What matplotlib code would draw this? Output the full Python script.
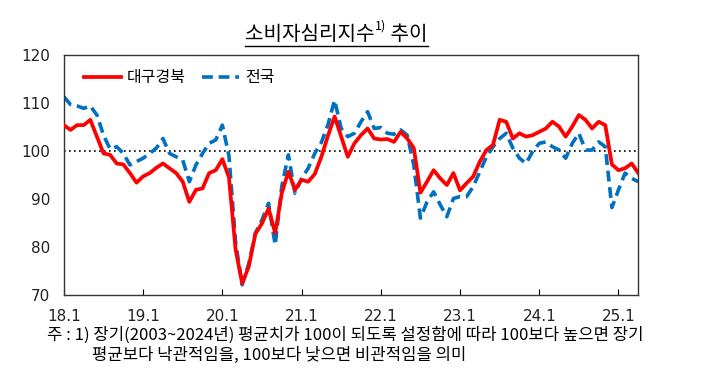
import numpy as np
import matplotlib
matplotlib.use("Agg")
import matplotlib.pyplot as plt
from matplotlib.lines import Line2D

plt.rcParams['font.family'] = ['Noto Sans CJK KR', 'DejaVu Sans']

# monthly index, 2018.1 ~ 2025.4
daegu = [
    105.4, 104.4, 105.4, 105.4, 106.5, 103.0, 99.5, 99.2, 97.4, 97.2, 95.4, 93.4,   # 2018
    94.7, 95.4, 96.5, 97.4, 96.4, 95.4, 93.6, 89.4, 91.9, 92.2, 95.4, 96.0,         # 2019
    98.3, 94.5, 79.5, 72.4, 75.9, 82.7, 84.9, 88.0, 82.9, 91.2, 95.7, 91.9,         # 2020
    94.0, 93.6, 95.2, 98.8, 103.2, 107.2, 103.0, 98.8, 101.6, 103.3, 104.7, 102.6,  # 2021
    102.4, 102.5, 101.9, 104.0, 102.6, 100.6, 91.3, 93.6, 96.0, 94.3, 92.9, 95.4,   # 2022
    91.8, 93.3, 94.7, 97.8, 100.2, 101.3, 106.5, 106.1, 102.6, 103.7, 103.0, 103.3, # 2023
    104.0, 104.7, 106.1, 105.1, 103.0, 105.1, 107.5, 106.5, 104.7, 106.1, 105.4, 97.2,  # 2024
    96.0, 96.4, 97.4, 95.4,                                                          # 2025
]
nation = [
    111.3, 109.7, 109.4, 108.9, 109.4, 107.5, 103.3, 100.4, 100.9, 99.5, 97.1, 97.8,
    98.5, 99.5, 100.6, 102.6, 99.5, 98.8, 98.1, 93.6, 97.1, 99.5, 101.6, 102.3,
    105.4, 99.0, 81.0, 72.1, 76.5, 82.9, 85.6, 89.1, 80.4, 92.6, 99.2, 91.2,
    94.3, 96.4, 99.5, 101.8, 105.5, 110.6, 104.7, 103.0, 103.7, 106.1, 108.2, 104.7,
    104.9, 103.7, 103.5, 104.4, 103.3, 97.0, 86.0, 89.4, 91.5, 88.8, 86.3, 90.1,
    90.5, 90.5, 92.6, 95.7, 98.8, 100.9, 102.6, 103.7, 100.6, 98.5, 97.4, 99.9,
    101.6, 101.9, 100.9, 100.2, 98.5, 101.6, 103.7, 100.2, 100.2, 101.9, 100.9, 88.2,
    91.9, 95.4, 94.3, 93.6,
]
xtick_labels = ['18.1', '19.1', '20.1', '21.1', '22.1', '23.1', '24.1', '25.1']
series_names = ['대구경북', '전국']

x = np.arange(len(daegu))

fig = plt.figure(figsize=(7.1, 3.88), dpi=100)
ax = fig.add_axes([0.090, 0.240, 0.809, 0.618])

ax.axhline(100, color='black', lw=1.2, ls=(0, (1, 2)), zorder=1)
ax.plot(x, daegu, color='#ff0000', lw=2.7, label=series_names[0], zorder=3)
ax.plot(x, nation, color='#0070c0', lw=2.6, ls=(0, (3, 1.6)), label=series_names[1], zorder=2)

ax.set_xlim(0, len(daegu) - 1)
ax.set_ylim(70, 120)
ax.set_yticks(range(70, 121, 10))
ax.set_xticks(np.arange(len(xtick_labels)) * 12)
ax.set_xticklabels(xtick_labels)
ax.tick_params(axis='x', direction='in', length=4, width=0.8, pad=10, labelsize=11)
ax.tick_params(axis='y', length=0, pad=10, labelsize=11)
for lab in ax.get_xticklabels() + ax.get_yticklabels():
    lab.set_family(['Liberation Sans Narrow', 'DejaVu Sans'])
    lab.set_color('#222222')
for sp in ax.spines.values():
    sp.set_color('#333333')
    sp.set_linewidth(1.0)

leg = ax.legend(loc='upper left', ncol=2, frameon=False, fontsize=11.5,
                handlelength=2.3, columnspacing=1.0, handletextpad=0.4,
                bbox_to_anchor=(0.01, 1.0))

# title with superscript and underline
t1 = fig.text(0.527, 0.898, '소비자심리지수', ha='right', va='baseline', fontsize=14.5)
t2 = fig.text(0.528, 0.925, '1)', ha='left', va='baseline', fontsize=9)
fig.canvas.draw()
r = fig.canvas.get_renderer()
b2 = t2.get_window_extent(r).transformed(fig.transFigure.inverted())
t3 = fig.text(b2.x1, 0.898, ' 추이', ha='left', va='baseline', fontsize=14.5)
fig.canvas.draw()
b1 = t1.get_window_extent(r).transformed(fig.transFigure.inverted())
b3 = t3.get_window_extent(r).transformed(fig.transFigure.inverted())
fig.add_artist(Line2D([b1.x0, b3.x1], [0.882, 0.882], color='black', lw=1.0,
                      transform=fig.transFigure))

fig.text(0.066, 0.137, '주 : 1) 장기(2003~2024년) 평균치가 100이 되도록 설정함에 따라 100보다 높으면 장기',
         ha='left', va='center', fontsize=12)
fig.text(0.130, 0.085, '평균보다 낙관적임을, 100보다 낮으면 비관적임을 의미',
         ha='left', va='center', fontsize=12)

fig.savefig('out.png', dpi=100)
